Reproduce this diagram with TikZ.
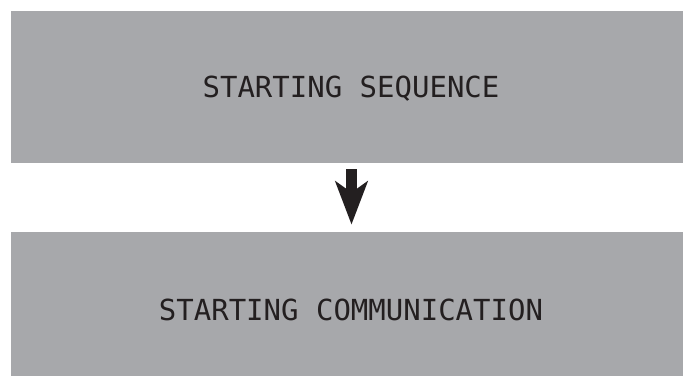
\documentclass[tikz,border=0pt]{standalone}
\usepackage{fontspec}
\setmonofont{DejaVu Sans Mono}
\usetikzlibrary{arrows.meta}
\definecolor{boxgrey}{HTML}{A7A8AB}
\definecolor{arrowblack}{HTML}{231F20}
\tikzset{
  panel/.style={fill=boxgrey, draw=none, inner sep=0pt, minimum width=672pt},
  label/.style={font=\ttfamily\fontsize{29}{33}\selectfont, text=arrowblack, inner sep=0pt},
  flow/.style={draw=arrowblack, line width=11pt,
    -{Stealth[length=43pt, width=32pt, inset=11pt, fill=arrowblack]}}
}
\begin{document}
\begin{tikzpicture}[x=1pt,y=1pt]
\useasboundingbox (0,0) rectangle (683,376);
\node[panel, minimum height=152pt, anchor=south west] (top) at (11,213) {};
\node[panel, minimum height=144pt, anchor=south west] (bot) at (11,0) {};
\node[label] (ttop) at (351,287.5) {STARTING SEQUENCE};
\node[label] (tbot) at (351,66.5) {STARTING COMMUNICATION};
\coordinate (a1) at (351.5,213);
\coordinate (a2) at (351.5,144);
\draw[flow, shorten <=6pt, shorten >=7pt] (top.south -| a1) -- (bot.north -| a2);
\end{tikzpicture}
\end{document}
